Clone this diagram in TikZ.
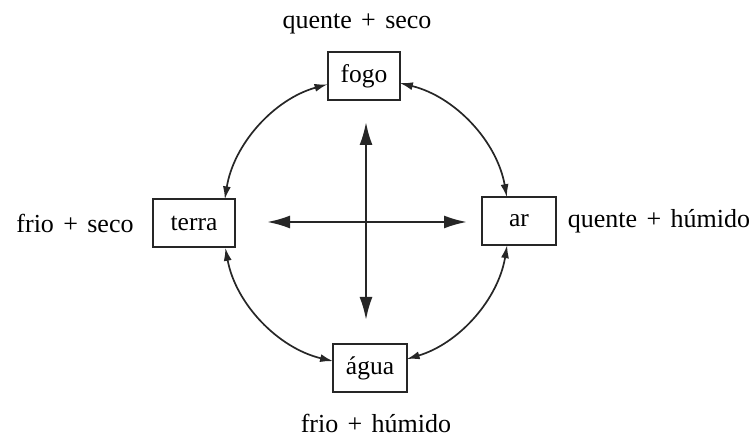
\documentclass[tikz,border=0pt]{standalone}
\usepackage{fontspec}
\setmainfont{Liberation Serif}
\usetikzlibrary{arrows.meta}
\newcommand{\plusop}{\hspace{0.36em}+\hspace{0.36em}}
\begin{document}
\begin{tikzpicture}[x=1pt,y=1pt,
  elem/.style={draw=black!85, line width=1.5pt, minimum height=48pt, inner sep=0pt, font=\fontsize{25.5}{28}\selectfont},
  lab/.style={font=\fontsize{26}{28}\selectfont, inner sep=0pt},
  ring/.style={draw=black!85, line width=1.7pt, {Latex[length=13pt,width=8pt]}-{Latex[length=13pt,width=8pt]}},
  axis/.style={draw=black!85, line width=2.3pt, {Latex[length=23pt,width=13pt]}-{Latex[length=23pt,width=13pt]}}]
\useasboundingbox (0,0) rectangle (754,438);
\coordinate (o) at (366,216);
\node[elem, minimum width=72pt] (fogo) at (364,362) {fogo};
\node[elem, minimum width=82pt] (terra) at (194,215) {terra};
\node[elem, minimum width=74pt] (ar) at (519,217) {ar};
\node[elem, minimum width=74pt] (agua) at (370,70) {água};
\node[lab] (qs) at (357,414) {quente\plusop seco};
\node[lab] (fs) at (75,215) {frio\plusop seco};
\node[lab] (qh) at (659,217) {quente\plusop húmido};
\node[lab] (fh) at (376,15) {frio\plusop húmido};
% ring arcs
\coordinate (a1) at ([shift={(105.6:143pt)}]o);
\coordinate (a2) at ([shift={(76.3:143pt)}]o);
\coordinate (a3) at ([shift={(-9.3:143pt)}]o);
\coordinate (a4) at ([shift={(-103.3:143pt)}]o);
\draw[ring] (a1) arc[start angle=105.6, end angle=170.9, radius=143pt];
\draw[ring] (a2) arc[start angle=76.3, end angle=10, radius=143pt];
\draw[ring] (a3) arc[start angle=-9.3, end angle=-73.5, radius=143pt];
\draw[ring] (a4) arc[start angle=-103.3, end angle=-169.6, radius=143pt];
% cross
\coordinate (top) at (366,316);
\coordinate (bot) at (366,118);
\coordinate (lft) at (267,216);
\coordinate (rgt) at (467,216);
\draw[axis] (top) -- (bot);
\draw[axis] (lft) -- (rgt);
\end{tikzpicture}
\end{document}
